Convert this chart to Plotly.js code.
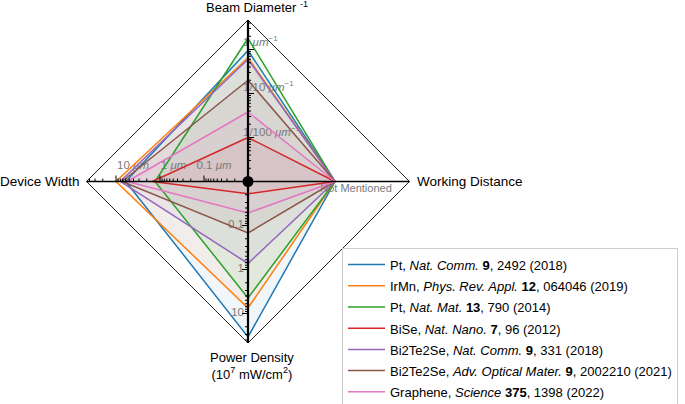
<!DOCTYPE html>
<html>
<head>
<meta charset="utf-8">
<script src="https://cdn.plot.ly/plotly-3.0.1.min.js"></script>
<style>html,body{margin:0;padding:0;background:#fff;}#chart{width:685px;height:404px;}</style>
</head>
<body>
<div id="chart"></div>
<script>
// ---------------- DATA ----------------
const seriesNames = [
  "Pt, <i>Nat. Comm.</i> <b>9</b>, 2492 (2018)",
  "IrMn, <i>Phys. Rev. Appl.</i> <b>12</b>, 064046 (2019)",
  "Pt, <i>Nat. Mat.</i> <b>13</b>, 790 (2014)",
  "BiSe, <i>Nat. Nano.</i> <b>7</b>, 96 (2012)",
  "Bi2Te2Se, <i>Nat. Comm.</i> <b>9</b>, 331 (2018)",
  "Bi2Te2Se, <i>Adv. Optical Mater.</i> <b>9</b>, 2002210 (2021)",
  "Graphene, <i>Science</i> <b>375</b>, 1398 (2022)"
];
// Beam diameter^-1 (um^-1)
const beamDiameterInv = [0.95, 0.65, 1.8, 0.01, 0.6, 0.2, 0.038];
// Device width (um)
const deviceWidth = [6.0, 10.0, 1.3, 1.5, 8.0, 7.3, 5.6];
// Power density (10^7 mW/cm^2)
const powerDensity = [34, 7.5, 4.45, 0.019, 0.73, 0.148, 0.052];
// Working distance
const workingDistance = ["Not Mentioned","Not Mentioned","Not Mentioned","Not Mentioned","Not Mentioned","Not Mentioned","Not Mentioned"];

const beamTicks = [1, 0.1, 0.01];
const beamTickLabels = ["1 <i>μm</i><sup>−1</sup>", "1/10 <i>μm</i><sup>−1</sup>", "1/100 <i>μm</i><sup>−1</sup>"];
const widthTicks = [10, 1, 0.1];
const widthTickLabels = ["10 <i>μm</i>", "1 <i>μm</i>", "0.1 <i>μm</i>"];
const powerTicks = [0.1, 1, 10];
const powerTickLabels = ["0.1", "1", "10"];
const workingLabels = ["Not Mentioned"];

// ---------------- SCALES / STYLE ----------------
const palette = ["#1f77b4","#ff7f0e","#2ca02c","#d62728","#9467bd","#8c564b","#e377c2"];
const PX = 44;                 // pixels per decade
const CX = 248, CY = 181.5;    // centre in pixels
const R = 161.5 / PX;          // outer diamond radius (decades)
const beamCenter = 1e-3, widthCenter = 1e-2, powerCenter = 1e-2;
const workingPos = {"Not Mentioned": 87 / PX};
const FONT = "Liberation Sans, Arial, Helvetica, sans-serif";

const dBeam = v => Math.log10(v) - Math.log10(beamCenter);
const dWidth = v => Math.log10(v) - Math.log10(widthCenter);
const dPower = v => Math.log10(v) - Math.log10(powerCenter);
const px = x => (x - CX) / PX;
const py = y => (CY - y) / PX;
function rgba(hex, a){const n=parseInt(hex.slice(1),16);return `rgba(${n>>16},${(n>>8)&255},${n&255},${a})`;}

const traces = [];

// series fills
function poly(i){
  const t = dBeam(beamDiameterInv[i]);
  const r = workingPos[workingDistance[i]];
  const b = dPower(powerDensity[i]);
  const l = dWidth(deviceWidth[i]);
  return {x: [0, r, 0, -l, 0], y: [t, 0, -b, 0, t]};
}
seriesNames.forEach((n, i) => {
  const p = poly(i);
  traces.push({x: p.x, y: p.y, mode: "lines", fill: "toself", fillcolor: rgba(palette[i], 0.065),
    line: {width: 0, color: rgba(palette[i], 0)}, hoverinfo: "skip", showlegend: false});
});

// tick labels (above fills, below lines/axes)
const gray = "#7a7a7a";
traces.push({x: widthTicks.map(v => -dWidth(v)*0.92 + 6.5/PX), y: widthTicks.map(() => 15.5/PX),
  text: widthTickLabels, mode: "text", textposition: "middle center",
  textfont: {family: FONT, size: 11.5, color: gray}, hoverinfo: "skip", showlegend: false});
traces.push({x: beamTicks.map(() => -5/PX), y: beamTicks.map(v => dBeam(v)*45/44 + 3.5/PX),
  text: beamTickLabels, mode: "text", textposition: "middle right",
  textfont: {family: FONT, size: 11.5, color: gray}, hoverinfo: "skip", showlegend: false});
traces.push({x: powerTicks.map(() => -4/PX), y: powerTicks.map(v => -dPower(v)),
  text: powerTickLabels, mode: "text", textposition: "middle left",
  textfont: {family: FONT, size: 11.5, color: gray}, hoverinfo: "skip", showlegend: false});
traces.push({x: workingLabels.map(k => workingPos[k] + 21/PX), y: workingLabels.map(() => -7.5/PX),
  text: workingLabels, mode: "text", textposition: "middle center",
  textfont: {family: FONT, size: 11, color: gray}, hoverinfo: "skip", showlegend: false});

// series lines
seriesNames.forEach((n, i) => {
  const p = poly(i);
  traces.push({x: p.x, y: p.y, mode: "lines", name: '<span style="font-size:13px">' + n + '</span>',
    line: {width: 1.5, color: palette[i]}, hoverinfo: "name"});
});

// outer diamond
traces.push({x: [0, R, 0, -R, 0], y: [R, 0, -R, 0, R], mode: "lines",
  line: {color: "#222", width: 1}, hoverinfo: "skip", showlegend: false});

// ticks
function logTicks(center){
  const out = [];
  const e0 = Math.floor(Math.log10(center));
  for (let e = e0; e < e0 + 6; e++) for (let k = 1; k <= 9; k++) {
    const v = k * Math.pow(10, e);
    const d = Math.log10(v) - Math.log10(center);
    if (d > 0.01 && d < R - 0.05) out.push({d: d, major: k === 1});
  }
  return out;
}
const tx = [], ty = [];
logTicks(widthCenter).forEach(t => { const L = (t.major ? 6 : 3) / PX; tx.push(-t.d, -t.d, null); ty.push(0, L, null); });
logTicks(beamCenter).forEach(t => { const L = (t.major ? 6 : 3) / PX; tx.push(0, L, null); ty.push(t.d, t.d, null); });
logTicks(powerCenter).forEach(t => { const L = (t.major ? 6 : 3) / PX; tx.push(0, -L, null); ty.push(-t.d, -t.d, null); });
traces.push({x: tx, y: ty, mode: "lines", line: {color: "#000", width: 1}, hoverinfo: "skip", showlegend: false, connectgaps: false});

// axes
traces.push({x: [-R, R], y: [0, 0], mode: "lines", line: {color: "#000", width: 1.6}, hoverinfo: "skip", showlegend: false});
traces.push({x: [0, 0], y: [R, -R], mode: "lines", line: {color: "#000", width: 2.2}, hoverinfo: "skip", showlegend: false});
traces.push({x: [0], y: [0], mode: "markers", marker: {color: "#000", size: 11}, hoverinfo: "skip", showlegend: false});

const titleFont = {family: FONT, size: 13, color: "#000"};
const sideFont = {family: FONT, size: 13.5, color: "#000"};
const layout = {
  width: 685, height: 404,
  margin: {l: 0, r: 0, t: 0, b: 0, autoexpand: false},
  paper_bgcolor: "#fff", plot_bgcolor: "#fff",
  xaxis: {range: [px(0), px(685)], visible: false, fixedrange: true},
  yaxis: {range: [py(404), py(0)], visible: false, fixedrange: true},
  showlegend: true,
  legend: {x: 342/685, y: 1 - 248/404, xanchor: "left", yanchor: "top",
    bgcolor: "#fff", bordercolor: "#cccccc", borderwidth: 1, itemwidth: 37,
    font: {family: FONT, size: 14, color: "#000"}, tracegroupgap: 0},
  annotations: [
    {x: px(257), y: py(7), xref: "x", yref: "y", text: "Beam Diameter <sup>-1</sup>", showarrow: false, font: titleFont, xanchor: "center", yanchor: "middle"},
    {x: px(82), y: py(181.5), xref: "x", yref: "y", text: "Device Width", showarrow: false, font: sideFont, xanchor: "right", yanchor: "middle"},
    {x: px(415), y: py(181.5), xref: "x", yref: "y", text: "Working Distance", showarrow: false, font: sideFont, xanchor: "left", yanchor: "middle"},
    {x: px(252), y: py(366), xref: "x", yref: "y", text: "Power Density<br>(10<sup>7</sup> mW/cm<sup>2</sup>)", showarrow: false, font: titleFont, xanchor: "center", yanchor: "middle"}
  ]
};
Plotly.newPlot("chart", traces, layout, {displayModeBar: false, staticPlot: true});
</script>
</body>
</html>
